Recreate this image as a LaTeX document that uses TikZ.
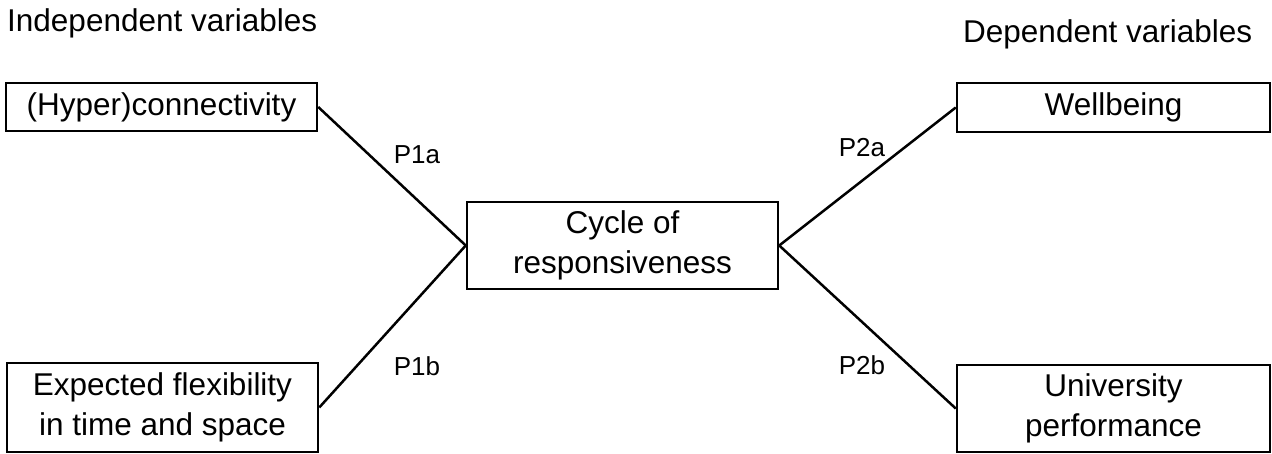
\documentclass[tikz,border=0pt]{standalone}
\usepackage{fontspec}
\setmainfont{Liberation Sans}
\begin{document}
\begin{tikzpicture}[x=1pt,y=-1pt,
  box/.style={draw,line width=2.5pt,inner sep=0pt,align=center,font=\fontsize{31.5}{39.5}\selectfont},
  lbl/.style={font=\fontsize{26}{30}\selectfont,inner sep=0pt},
  head/.style={font=\fontsize{31.5}{36}\selectfont,inner sep=0pt,anchor=base west},
  link/.style={line width=2.5pt}]
\useasboundingbox (0,0) rectangle (1272,454);
\node[head] (ind) at (7,32) {Independent variables};
\node[head] (dep) at (963,43) {Dependent variables};
\node[box,minimum width=311pt,minimum height=48pt] (hyp) at (161.5,107) {(Hyper)connectivity};
\node[box,minimum width=311pt,minimum height=89pt] (flex) at (162.5,407.5) {Expected flexibility\\in time and space};
\node[box,minimum width=311pt,minimum height=87pt] (cyc) at (622.5,245.5) {Cycle of\\responsiveness};
\node[box,minimum width=313pt,minimum height=49pt] (well) at (1113.5,107.5) {Wellbeing};
\node[box,minimum width=313pt,minimum height=87pt] (univ) at (1113.5,408.5) {University\\performance};
\draw[link] (hyp.east) -- (cyc.west);
\draw[link] (flex.east) -- (cyc.west);
\draw[link] (cyc.east) -- (well.west);
\draw[link] (cyc.east) -- (univ.west);
\node[lbl] (p1a) at (417,155) {P1a};
\node[lbl] (p1b) at (417,366) {P1b};
\node[lbl] (p2a) at (862,148) {P2a};
\node[lbl] (p2b) at (862,365) {P2b};
\end{tikzpicture}
\end{document}
